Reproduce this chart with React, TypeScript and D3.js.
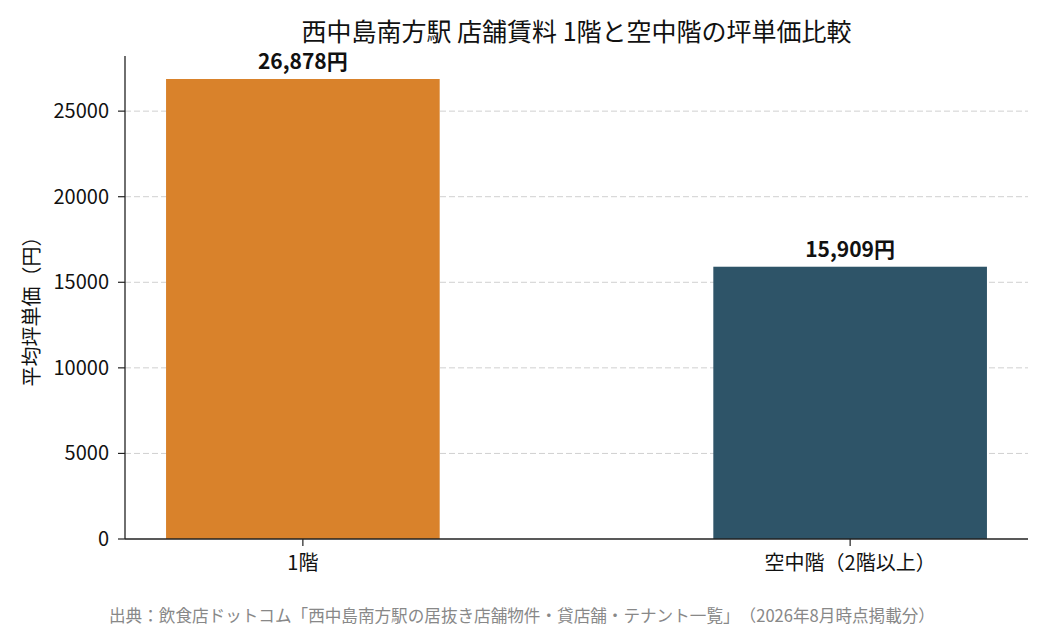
import React from "react";
import * as d3 from "d3";

const categories = ["1階", "空中階（2階以上）"];
const values = [26878, 15909];
const barColors = ["#D9822B", "#2E5468"];
const yTicks = [0, 5000, 10000, 15000, 20000, 25000];

const title = "西中島南方駅 店舗賃料 1階と空中階の坪単価比較";
const yLabel = "平均坪単価（円）";
const source = "出典：飲食店ドットコム「西中島南方駅の居抜き店舗物件・貸店舗・テナント一覧」（2026年8月時点掲載分）";

const width = 1050;
const height = 630;
const marginLeft = 125;
const marginRight = 22;
const marginTop = 56;
const marginBottom = 91;
const font = "'Noto Sans CJK JP', 'Noto Sans', sans-serif";

export default function App() {
  const x = d3.scaleLinear([-0.325, 1.325], [marginLeft, width - marginRight]);
  const y = d3.scaleLinear([0, d3.max(values)! * 1.05], [height - marginBottom, marginTop]);
  const barW = x(0.5) - x(0);
  const fmt = d3.format(",");

  return (
    <svg
      width={width}
      height={height}
      style={{ position: "absolute", left: 0, top: 0, background: "#fff", textSpacingTrim: "space-all" } as any}
      fontFamily={font}
    >
      <rect width={width} height={height} fill="#fff" />
      {/* grid */}
      {yTicks.slice(1).map((t) => (
        <line
          key={t}
          x1={marginLeft}
          x2={width - marginRight}
          y1={y(t)}
          y2={y(t)}
          stroke="#d0d0d0"
          strokeDasharray="6,3"
          strokeWidth={1}
        />
      ))}
      {/* bars */}
      {values.map((v, i) => (
        <g key={i}>
          <rect x={x(i) - barW / 2} y={y(v)} width={barW} height={y(0) - y(v)} fill={barColors[i]} />
          <text x={x(i)} y={y(v) - 10} textAnchor="middle" fontSize={21} fontWeight="bold" fill="#111">
            {fmt(v)}円
          </text>
        </g>
      ))}
      {/* y axis */}
      <line x1={marginLeft} x2={marginLeft} y1={marginTop} y2={y(0)} stroke="#222" strokeWidth={1.3} />
      {yTicks.map((t) => (
        <g key={t} transform={`translate(${marginLeft},${y(t)})`}>
          <line x1={-7} x2={0} stroke="#222" strokeWidth={1.2} />
          <text x={-16} dy="0.35em" textAnchor="end" fontSize={20} fill="#111">
            {t}
          </text>
        </g>
      ))}
      {/* x axis */}
      <line x1={marginLeft} x2={width - marginRight} y1={y(0)} y2={y(0)} stroke="#222" strokeWidth={1.3} />
      {categories.map((c, i) => (
        <g key={c} transform={`translate(${x(i)},${y(0)})`}>
          <line y1={0} y2={7} stroke="#222" strokeWidth={1.2} />
          <text y={31} textAnchor="middle" fontSize={20} fill="#111">
            {c}
          </text>
        </g>
      ))}
      <text
        transform={`translate(39,${(marginTop + y(0)) / 2 + 9}) rotate(-90)`}
        textAnchor="middle"
        fontSize={20}
        fill="#111"
      >
        {yLabel}
      </text>
      <text x={(marginLeft + width - marginRight) / 2} y={41} textAnchor="middle" fontSize={25} fill="#111">
        {title}
      </text>
      <text x={522} y={622} textAnchor="middle" fontSize={16.6} fill="#888">
        {source}
      </text>
    </svg>
  );
}
